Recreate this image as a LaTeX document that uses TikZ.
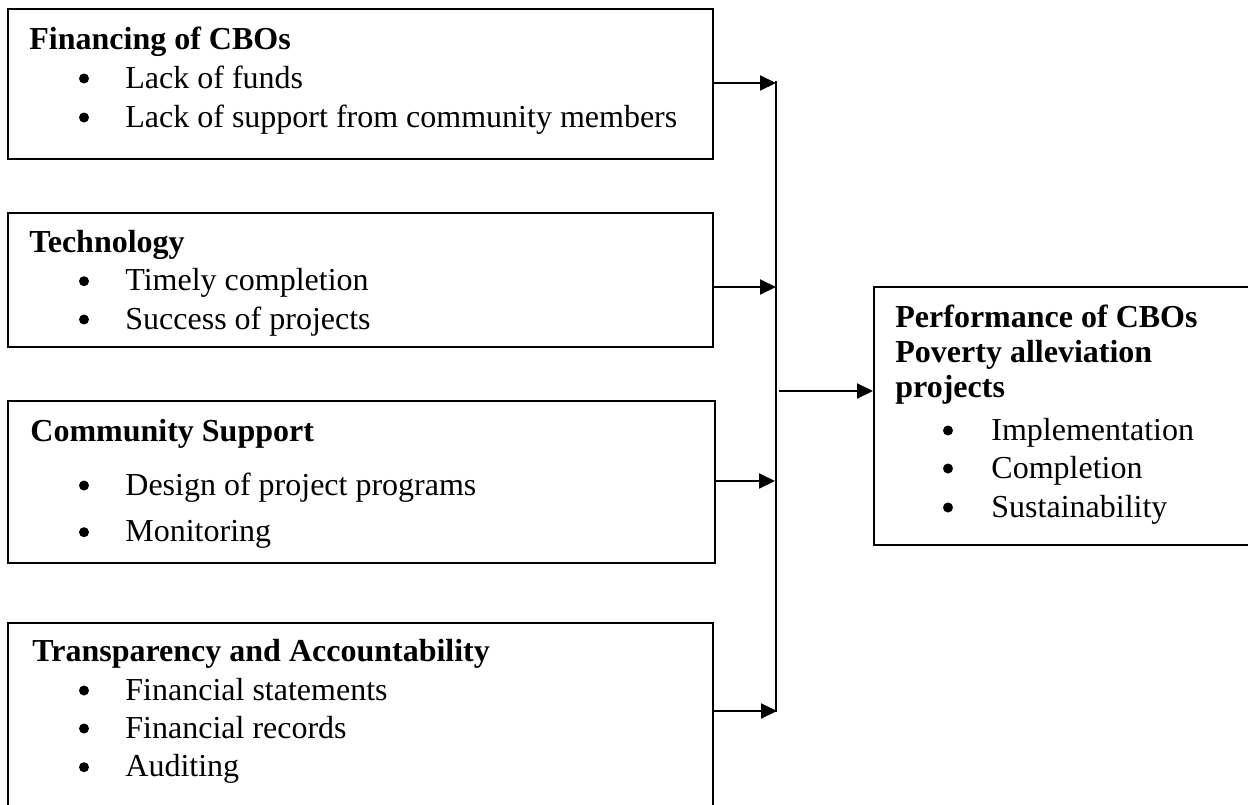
\documentclass[tikz,border=0pt]{standalone}
\usepackage{fontspec}
\setmainfont{Liberation Serif}
\usetikzlibrary{arrows.meta,fit}
\newcommand\bitem[5]{%
  \node[dot] (#1d) at ({#2},{#4-9.5}) {};
  \node[itm] (#1) at ({#3},{#4}) {#5};}
\tikzset{
  box/.style={draw, line width=1pt, inner sep=0pt, rectangle},
  ttl/.style={anchor=base west, inner sep=0pt, font=\fontsize{16}{19}\selectfont\bfseries},
  itm/.style={anchor=base west, inner sep=0pt, font=\fontsize{16}{19}\selectfont},
  dot/.style={circle, fill, inner sep=0pt, minimum size=5pt},
  arr/.style={line width=1pt, -{Triangle[length=8pt,width=7.5pt]}},
  conn/.style={line width=1pt}
}
\begin{document}
\begin{tikzpicture}[x=0.5pt,y=-0.5pt]
\path[use as bounding box] (0,0) rectangle (1248,804);
\clip (0,0) rectangle (1248,804);
% boxes
\node[box, fit={(8,9)(713,159)}] (b1) {};
\node[box, fit={(8,212.5)(713,347)}] (b2) {};
\node[box, fit={(8,401)(715,563)}] (b3) {};
\node[box, fit={(8,623)(713,830)}] (b4) {};
\node[box, fit={(874,287)(1262,545)}] (out) {};
% box 1
\node[ttl] (t1) at (29,49) {Financing of CBOs};
\bitem{i11}{84}{125}{88}{Lack of funds}
\bitem{i12}{84}{125}{127}{Lack of support from community members}
% box 2
\node[ttl] (t2) at (29,252.7) {Technology};
\bitem{i21}{84}{125}{290.7}{Timely completion}
\bitem{i22}{84}{125}{329}{Success of projects}
% box 3
\node[ttl] (t3) at (30,441.7) {Community Support};
\bitem{i31}{84}{125}{495}{Design of project programs}
\bitem{i32}{84}{125}{541.7}{Monitoring}
% box 4
\node[ttl] (t4) at (32,661.7) {Transparency and Accountability};
\bitem{i41}{84}{125}{700}{Financial statements}
\bitem{i42}{84}{125}{738}{Financial records}
\bitem{i43}{84}{125}{776.7}{Auditing}
% output box
\node[ttl] (to1) at (895,327) {Performance of CBOs};
\node[ttl] (to2) at (895,362) {Poverty alleviation};
\node[ttl] (to3) at (895,397) {projects};
\bitem{io1}{948}{991}{440}{Implementation}
\bitem{io2}{948}{991}{478}{Completion}
\bitem{io3}{948}{991}{517}{Sustainability}
% connectors
\coordinate (j1) at (776,83);
\coordinate (j2) at (776,287);
\coordinate (j3) at (775,481);
\coordinate (j4) at (777,711);
\coordinate (vtop) at (776,81);
\coordinate (vbot) at (776,712);
\coordinate (jo) at (779,391);
\draw[conn] (vtop) -- (vbot);
\draw[arr] (b1.east |- j1) -- (j1);
\draw[arr] (b2.east |- j2) -- (j2);
\draw[arr] (b3.east |- j3) -- (j3);
\draw[arr] (b4.east |- j4) -- (j4);
\draw[arr] (jo) -- (out.west |- jo);
\end{tikzpicture}
\end{document}
